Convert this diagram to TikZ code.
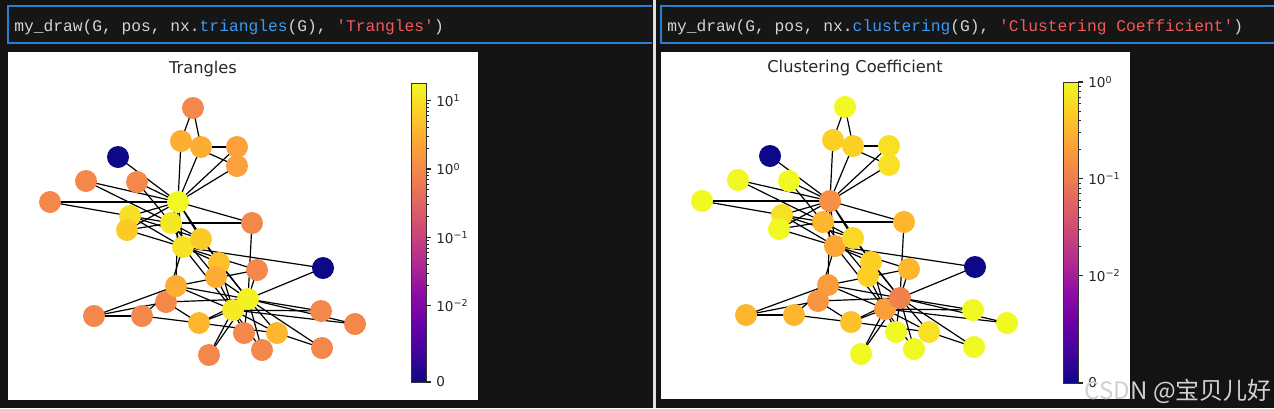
\documentclass[tikz,border=0pt]{standalone}
\usepackage{fontspec}
\setmainfont{DejaVu Sans}
\setmonofont{Liberation Mono}
\newfontfamily\cjkfont{Noto Sans CJK SC}

\definecolor{pagebg}{HTML}{131313}
\definecolor{cellbg}{HTML}{161616}
\definecolor{cellblue}{HTML}{2A7FD0}
\definecolor{codegray}{HTML}{D4D4D4}
\definecolor{fnblue}{HTML}{3C9AF0}
\definecolor{strred}{HTML}{F05A5A}
% plasma colormap stops
\definecolor{pl0}{HTML}{0D0887}\definecolor{pl1}{HTML}{41049D}
\definecolor{pl2}{HTML}{6A00A8}\definecolor{pl3}{HTML}{8F0DA4}
\definecolor{pl4}{HTML}{B12A90}\definecolor{pl5}{HTML}{CC4778}
\definecolor{pl6}{HTML}{E16462}\definecolor{pl7}{HTML}{F2844B}
\definecolor{pl8}{HTML}{FCA636}\definecolor{pl9}{HTML}{FCCE25}
\definecolor{pl10}{HTML}{F0F921}
\pgfdeclareverticalshading{plasmabar}{100bp}{color(0bp)=(pl0); color(25bp)=(pl0);
  color(30bp)=(pl1); color(35bp)=(pl2); color(40bp)=(pl3); color(45bp)=(pl4);
  color(50bp)=(pl5); color(55bp)=(pl6); color(60bp)=(pl7); color(65bp)=(pl8);
  color(70bp)=(pl9); color(75bp)=(pl10); color(100bp)=(pl10)}

\pgfdeclarelayer{back}
\pgfdeclarelayer{wires}
\pgfsetlayers{back,wires,main}

\tikzset{
  vtx/.style={circle, inner sep=0pt, minimum size=16.5pt},
  wire/.style={line width=0.9pt, black},
  code/.style={anchor=base west, inner sep=0pt, text=codegray,
    font=\ttfamily\fontsize{12.2}{14}\selectfont},
  plottitle/.style={inner sep=0pt, text=black!85, font=\fontsize{12.2}{14}\selectfont},
  ticklbl/.style={anchor=west, inner sep=0pt, text=black!85, font=\fontsize{10.2}{12}\selectfont},
  majortick/.style={line width=0.8pt, black!85},
  minortick/.style={line width=0.6pt, black!85},
  cellframe/.style={line width=1.5pt, cellblue}
}

\begin{document}
\begin{tikzpicture}[x=0.75pt, y=-0.75pt]
\useasboundingbox (0,0) rectangle (1274,408);

\begin{pgfonlayer}{back}
  \fill[pagebg] (0,0) rectangle (1274,408);
  % code cells
  \fill[cellbg] (8,6) rectangle (652,43);
  \fill[cellbg] (661,6) rectangle (1274,43);
  \draw[cellframe] (652,6) -- (8,6) -- (8,43) -- (652,43);
  \draw[cellframe] (1274,6) -- (661,6) -- (661,43) -- (1274,43);
  % plot areas
  \fill[white] (8,52) rectangle (478,400);
  \fill[white] (661,52) rectangle (1130,399);
  % separator
  \fill[black!12] (653,0) rectangle (656,408);
\end{pgfonlayer}

\node[code] (codeL) at (14,31.5)
  {my\_draw(G, pos, nx.\textcolor{fnblue}{triangles}(G), \textcolor{strred}{'Trangles'})};
\node[code] (codeR) at (667,31.5)
  {my\_draw(G, pos, nx.\textcolor{fnblue}{clustering}(G), \textcolor{strred}{'Clustering Coefficient'})};

\node[plottitle] (titleL) at (203,69) {Trangles};
\node[plottitle] (titleR) at (855,68) {Clustering Coefficient};

% vertices: id / x / y / triangles colour / clustering colour
\foreach \n/\x/\y/\ct/\cc in {
   0/178/202/F0F921/F69043,  1/171/223/F6E724/FEB62D,  2/183/247/F7E325/FCA735,
   3/130/216/F8DF25/F8E025,  4/237/147/FBA03A/F8E025,  5/181/141/FDAD32/FCCF25,
   6/201/147/FDAD32/FCCF25,  7/127/230/FCCA26/F0F921,  8/219/263/FDC229/FCCF25,
   9/323/268/0D0887/0D0887, 10/237/166/FBA03A/F8E025, 11/118/157/0D0887/0D0887,
  12/50/202/F4884A/F0F921,  13/201/239/FCCA26/F9D925, 14/244/333/F4884A/F0F921,
  15/321/311/F4884A/F0F921, 16/193/108/F4884A/F0F921, 17/86/181/F4884A/F0F921,
  18/355/324/F4884A/F0F921, 19/252/223/F4884A/FEB62D, 20/209/355/F4884A/F0F921,
  21/137/182/F4884A/F0F921, 22/262/350/F4884A/F0F921, 23/199/323/FEB72D/FDC229,
  24/94/316/F4884A/FEB62D,  25/142/316/F4884A/FEB62D, 26/322/348/F4884A/F0F921,
  27/166/302/F4884A/F89540, 28/257/270/F4884A/FEB62D, 29/277/333/FEB72D/F8E025,
  30/216/277/FDAD32/FCCF25, 31/176/286/FDAD32/FA9E3B, 32/233/310/F5EA24/FA9D3B,
  33/248/299/F3F122/F1814D}{
  \definecolor{ctri}{HTML}{\ct}
  \definecolor{cclu}{HTML}{\cc}
  \node[vtx, fill=ctri] (L\n) at (\x,\y) {};
  \node[vtx, fill=cclu] (R\n) at ({\x+652},{\y-1}) {};
}

\begin{pgfonlayer}{wires}
\foreach \a/\b in {0/1,0/2,0/3,0/4,0/5,0/6,0/7,0/8,0/10,0/11,0/12,0/13,0/17,0/19,0/21,0/31,
  1/2,1/3,1/7,1/13,1/17,1/19,1/21,1/30,2/3,2/7,2/8,2/9,2/13,2/27,2/28,2/32,
  3/7,3/12,3/13,4/6,4/10,5/6,5/10,5/16,6/16,8/30,8/32,8/33,9/33,13/33,
  14/32,14/33,15/32,15/33,18/32,18/33,19/33,20/32,20/33,22/32,22/33,
  23/25,23/27,23/29,23/32,23/33,24/25,24/27,24/31,25/31,26/29,26/33,27/33,
  28/31,28/33,29/32,29/33,30/32,30/33,31/32,31/33,32/33}{
  \draw[wire] (L\a.center) -- (L\b.center);
  \draw[wire] (R\a.center) -- (R\b.center);
}
\end{pgfonlayer}

% colour bars
\shade[shading=plasmabar] (411,83) rectangle (426,382);
\draw[line width=0.6pt, black!80] (411,83) rectangle (426,382);
\shade[shading=plasmabar] (1063,82) rectangle (1078,383);
\draw[line width=0.6pt, black!80] (1063,82) rectangle (1078,383);

% ticks, left bar (symlog, 68.48 px per decade)
\foreach \yy/\lab [count=\i] in {100.5/{10\textsuperscript{1}}, 169/{10\textsuperscript{0}},
    237.4/{10\textsuperscript{−1}}, 305.9/{10\textsuperscript{−2}}, 382/0}{
  \draw[majortick] (426,\yy) -- (431,\yy);
  \node[ticklbl] (tkL\i) at (436,\yy) {\lab};
}
\foreach \base in {305.9,237.4,169}
  \foreach \m in {2,...,9}
    \draw[minortick] (426,{\base-68.48*log10(\m)}) -- ++(2.8,0);

% ticks, right bar (symlog, 96.75 px per decade)
\foreach \yy/\lab [count=\i] in {82/{10\textsuperscript{0}}, 178.75/{10\textsuperscript{−1}},
    275.5/{10\textsuperscript{−2}}, 383/0}{
  \draw[majortick] (1078,\yy) -- (1083,\yy);
  \node[ticklbl] (tkR\i) at (1088,\yy) {\lab};
}
\foreach \base in {275.5,178.75}
  \foreach \m in {2,...,9}
    \draw[minortick] (1078,{\base-96.75*log10(\m)}) -- ++(2.8,0);

\node[anchor=east, inner sep=0pt, text=black!18, font=\cjkfont\fontsize{18}{20}\selectfont]
  (mark) at (1272,391) {CSDN @宝贝儿好};
\end{tikzpicture}
\end{document}
